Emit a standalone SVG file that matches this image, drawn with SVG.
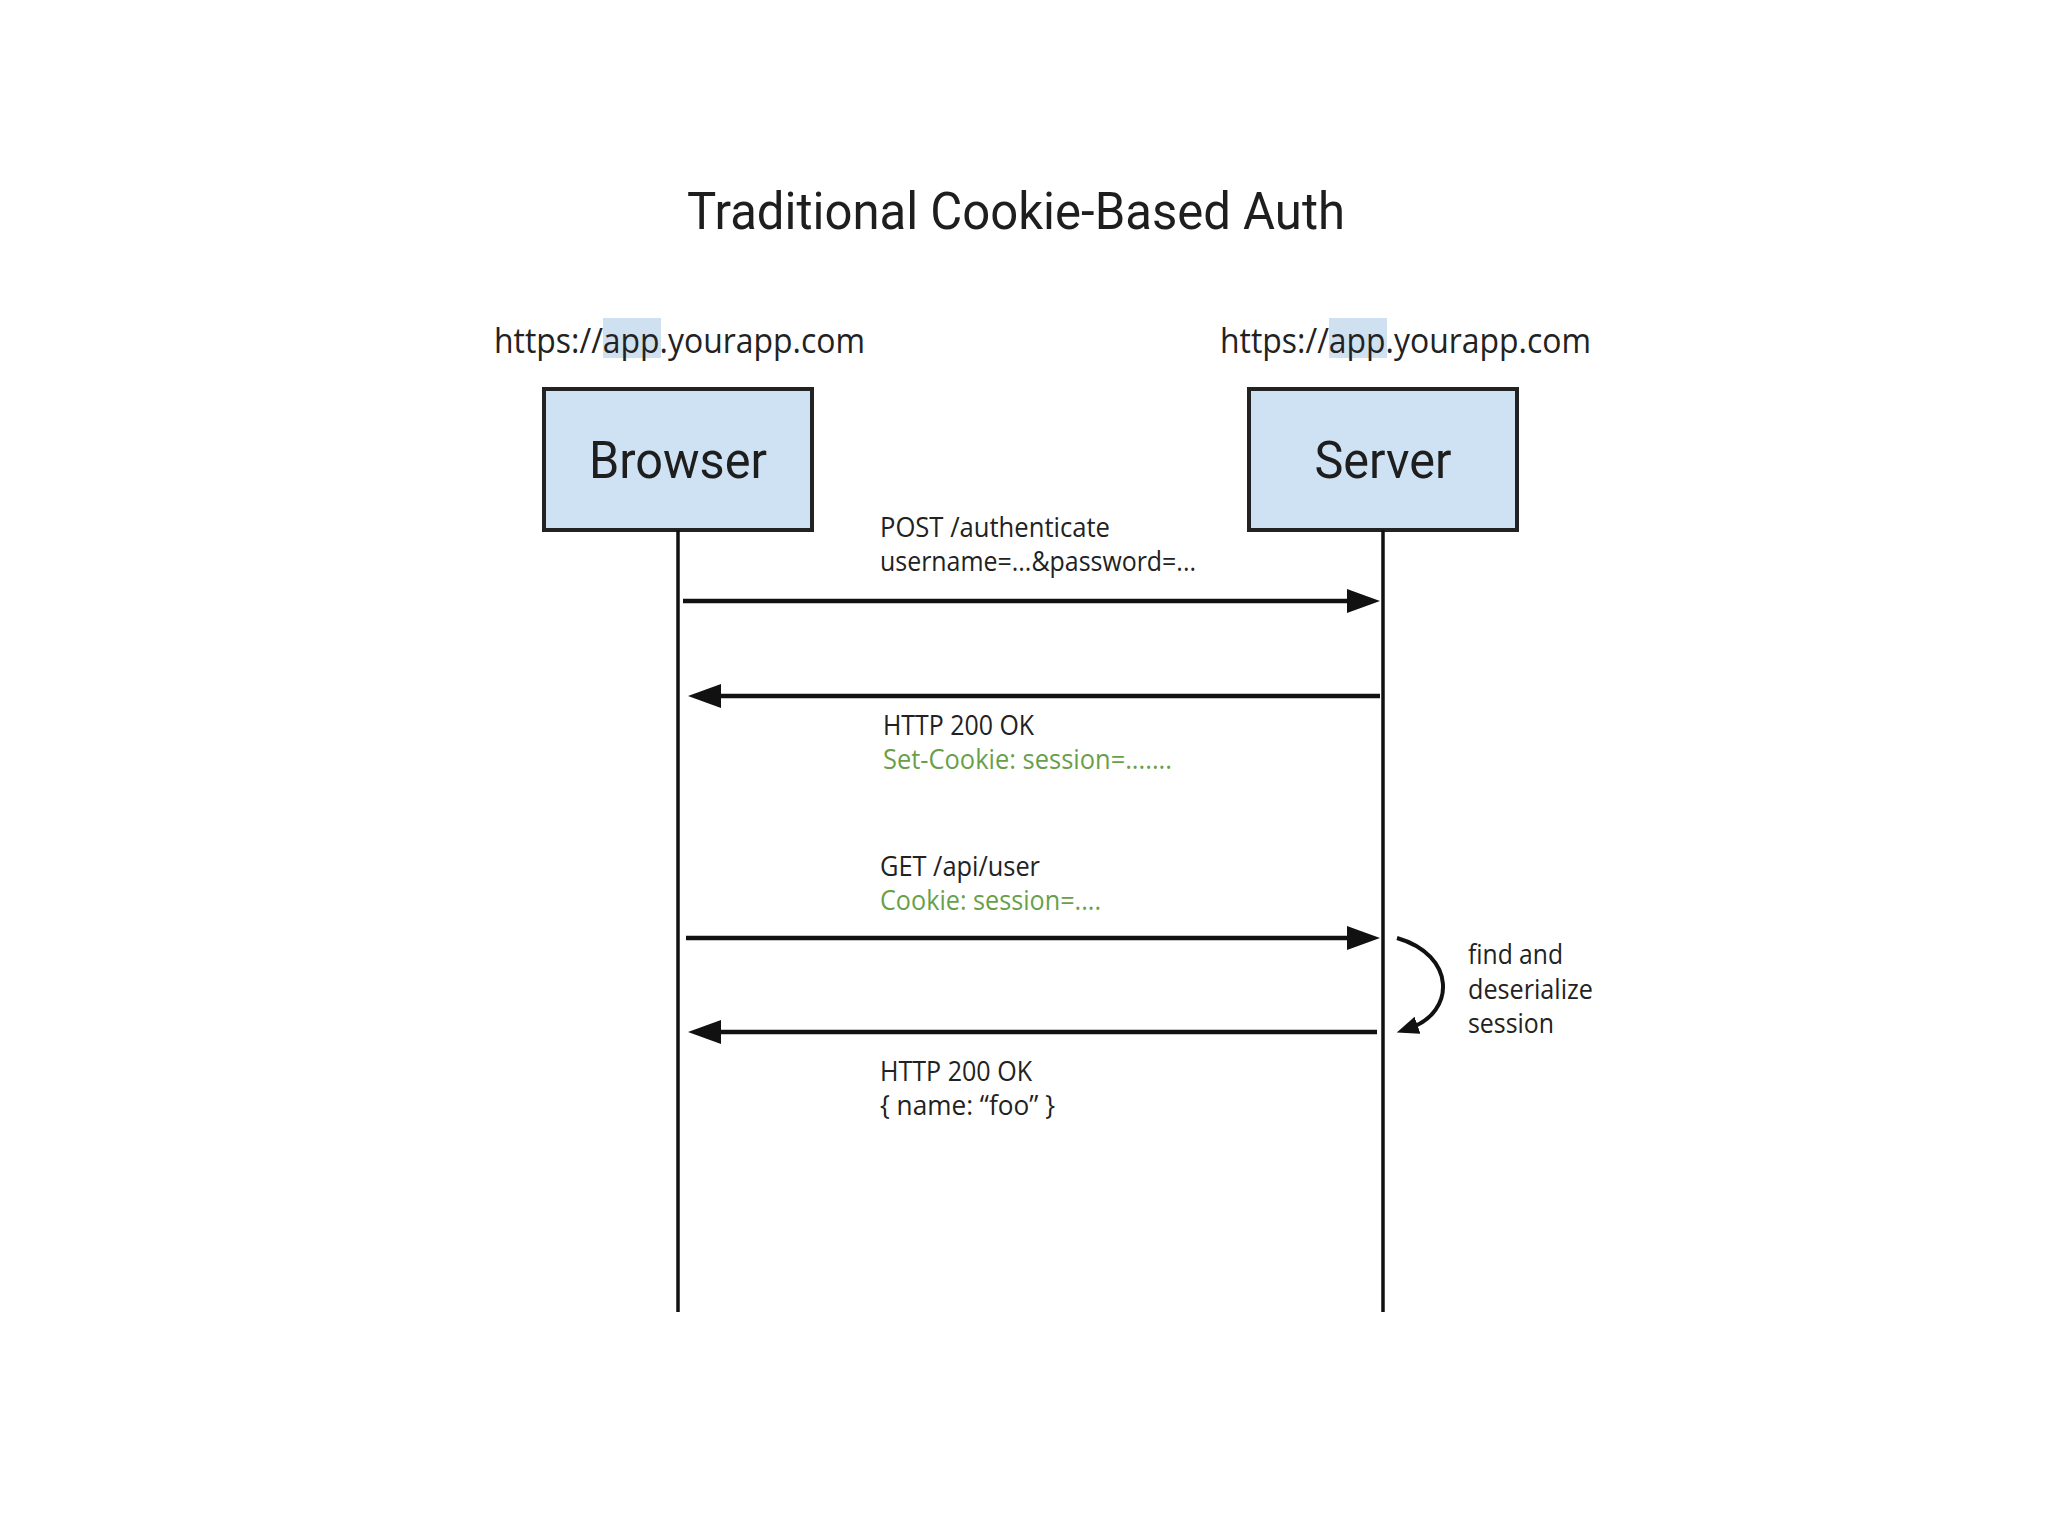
<svg xmlns="http://www.w3.org/2000/svg" width="2048" height="1536" viewBox="0 0 2048 1536">
<defs>
<style>
.t{font-family:"Open Sans","Liberation Sans",sans-serif;fill:#222;}
.h{font-family:Roboto,"Liberation Sans",sans-serif;fill:#1e1e1e;font-size:52px;}
.msg{font-size:28px;}
.green{fill:#6a9f4a;}
.url{font-size:34px;}
.box{fill:#cfe2f3;stroke:#222;stroke-width:4;}
.life{stroke:#111;stroke-width:3.5;fill:none;}
.arr{stroke:#111;stroke-width:4.5;fill:none;marker-end:url(#ah);}
.hl{fill:#cfe0f1;}
</style>
<marker id="ah" markerUnits="userSpaceOnUse" markerWidth="34" markerHeight="26" refX="14" refY="12" orient="auto">
<path d="M0,0 L33,12 L0,24 z" fill="#111"/>
</marker>
<marker id="ah2" markerUnits="userSpaceOnUse" markerWidth="24" markerHeight="20" refX="8" refY="9" orient="auto">
<path d="M0,0 L22,9 L0,18 z" fill="#111"/>
</marker>
</defs>
<rect width="2048" height="1536" fill="#fff"/>
<text class="h" x="1016" y="229" text-anchor="middle" textLength="658" lengthAdjust="spacingAndGlyphs">Traditional Cookie-Based Auth</text>

<g id="browser">
<rect class="hl" x="603" y="318" width="58" height="40"/>
<text class="t url" x="494" y="353" textLength="371" lengthAdjust="spacingAndGlyphs">https://app.yourapp.com</text>
<rect class="box" x="544" y="389" width="268" height="141"/>
<text class="h" x="678" y="478" text-anchor="middle" textLength="178" lengthAdjust="spacingAndGlyphs">Browser</text>
<line class="life" x1="678" y1="530" x2="678" y2="1312"/>
</g>

<g id="server">
<rect class="hl" x="1329" y="318" width="58" height="40"/>
<text class="t url" x="1220" y="353" textLength="371" lengthAdjust="spacingAndGlyphs">https://app.yourapp.com</text>
<rect class="box" x="1249" y="389" width="268" height="141"/>
<text class="h" x="1383" y="478" text-anchor="middle" textLength="137" lengthAdjust="spacingAndGlyphs">Server</text>
<line class="life" x1="1383" y1="530" x2="1383" y2="1312"/>
</g>

<g id="connectors">
<line class="arr" x1="683" y1="601" x2="1361" y2="601"/>
<line class="arr" x1="1380" y1="696" x2="707" y2="696"/>
<line class="arr" x1="686" y1="938" x2="1361" y2="938"/>
<line class="arr" x1="1377" y1="1032" x2="707" y2="1032"/>
<path d="M1397,938 C1456,955 1456,1012 1410,1028" stroke="#111" stroke-width="4" fill="none" marker-end="url(#ah2)"/>
</g>

<g id="labels">
<text class="t msg" x="880" y="537" textLength="230" lengthAdjust="spacingAndGlyphs">POST /authenticate</text>
<text class="t msg" x="880" y="571" textLength="316" lengthAdjust="spacingAndGlyphs">username=...&amp;password=...</text>
<text class="t msg" x="883" y="735" textLength="151" lengthAdjust="spacingAndGlyphs">HTTP 200 OK</text>
<text class="t msg green" x="883" y="769" textLength="289" lengthAdjust="spacingAndGlyphs">Set-Cookie: session=.......</text>
<text class="t msg" x="880" y="876" textLength="160" lengthAdjust="spacingAndGlyphs">GET /api/user</text>
<text class="t msg green" x="880" y="910" textLength="221" lengthAdjust="spacingAndGlyphs">Cookie: session=....</text>
<text class="t msg" x="1468" y="964" textLength="95" lengthAdjust="spacingAndGlyphs">find and</text>
<text class="t msg" x="1468" y="999" textLength="125" lengthAdjust="spacingAndGlyphs">deserialize</text>
<text class="t msg" x="1468" y="1033" textLength="86" lengthAdjust="spacingAndGlyphs">session</text>
<text class="t msg" x="880" y="1081" textLength="152" lengthAdjust="spacingAndGlyphs">HTTP 200 OK</text>
<text class="t msg" x="880" y="1115" textLength="175" lengthAdjust="spacingAndGlyphs">{ name: “foo” }</text>
</g>
</svg>
